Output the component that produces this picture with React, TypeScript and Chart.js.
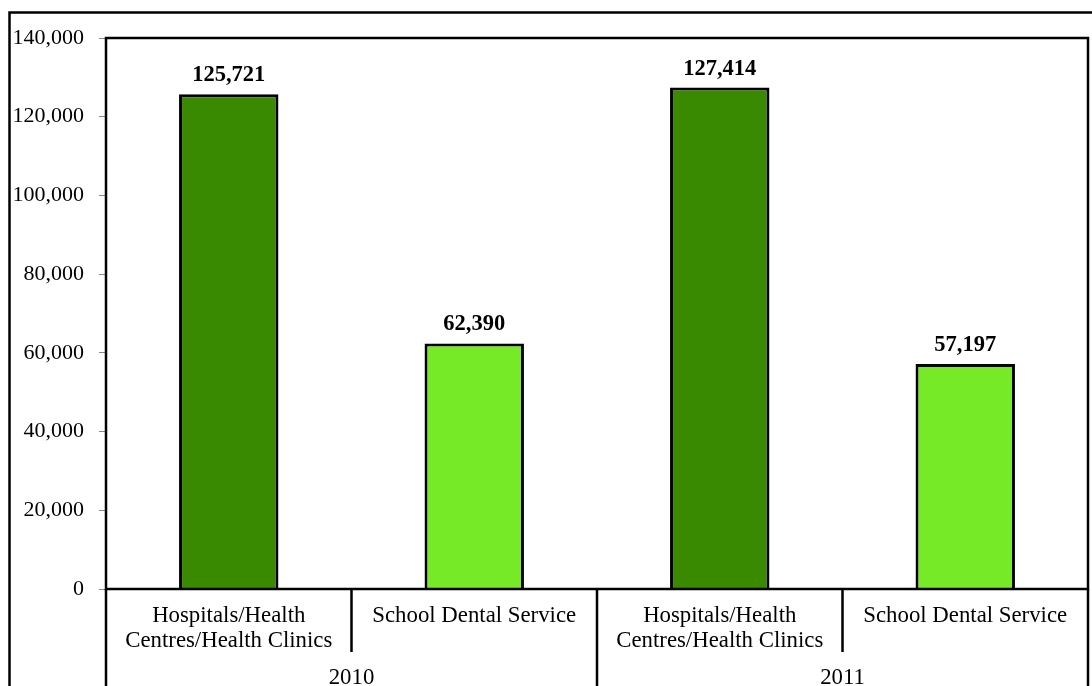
import React, { useEffect, useRef } from "react";
import { Chart, registerables } from "chart.js";

Chart.register(...registerables);

const categories = [
  ["Hospitals/Health", "Centres/Health Clinics"],
  ["School Dental Service"],
  ["Hospitals/Health", "Centres/Health Clinics"],
  ["School Dental Service"],
];
const groups = ["2010", "2011"];
const values = [125721, 62390, 127414, 57197];
const barColors = ["#3a8a00", "#77ea28", "#3a8a00", "#77ea28"];
const yTicks = [0, 20000, 40000, 60000, 80000, 100000, 120000, 140000];

const FONT = "'Liberation Serif', 'Times New Roman', serif";

export default function App() {
  const ref = useRef<HTMLCanvasElement | null>(null);

  useEffect(() => {
    document.body.style.margin = "0";
    const canvas = ref.current;
    if (!canvas) return;

    const decorPlugin = {
      id: "decor",
      beforeDraw(chart: any) {
        const ctx = chart.ctx;
        ctx.save();
        ctx.fillStyle = "#ffffff";
        ctx.fillRect(0, 0, chart.width, chart.height);
        ctx.strokeStyle = "#000";
        ctx.lineWidth = 2.5;
        ctx.beginPath();
        ctx.moveTo(9.5, chart.height + 5);
        ctx.lineTo(9.5, 12.5);
        ctx.lineTo(chart.width + 5, 12.5);
        ctx.stroke();
        ctx.restore();
      },
      afterDatasetsDraw(chart: any) {
        const ctx = chart.ctx;
        const area = chart.chartArea;
        const xs = chart.scales.x;
        ctx.save();
        ctx.strokeStyle = "#000";
        ctx.lineWidth = 2.5;
        ctx.strokeRect(area.left, area.top, area.right - area.left, area.bottom - area.top);
        ctx.beginPath();
        ctx.moveTo(area.left, area.bottom);
        ctx.lineTo(area.left, chart.height + 5);
        ctx.moveTo(area.right, area.bottom);
        ctx.lineTo(area.right, chart.height + 5);
        const n = categories.length;
        const half = n / groups.length;
        for (let i = 1; i < n; i++) {
          const x = (xs.getPixelForValue(i - 1) + xs.getPixelForValue(i)) / 2;
          ctx.moveTo(x, area.bottom);
          ctx.lineTo(x, i % half === 0 ? chart.height + 5 : area.bottom + 63);
        }
        ctx.stroke();

        ctx.fillStyle = "#000";
        ctx.font = `22.8px ${FONT}`;
        ctx.textAlign = "center";
        ctx.textBaseline = "middle";
        categories.forEach((lines, i) => {
          const x = xs.getPixelForValue(i);
          lines.forEach((line, j) => {
            ctx.fillText(line, x, area.bottom + 27 + j * 25);
          });
        });
        groups.forEach((g, gi) => {
          const x0 = xs.getPixelForValue(gi * half);
          const x1 = xs.getPixelForValue(gi * half + half - 1);
          ctx.fillText(g, (x0 + x1) / 2, area.bottom + 89);
        });

        ctx.font = `bold 22.5px ${FONT}`;
        ctx.textBaseline = "alphabetic";
        const meta = chart.getDatasetMeta(0);
        meta.data.forEach((bar: any, i: number) => {
          ctx.fillText(values[i].toLocaleString("en-US"), bar.x, bar.y - 13);
        });
        ctx.restore();
      },
    };

    const chart = new Chart(canvas, {
      type: "bar",
      data: {
        labels: categories.map((c) => c.join(" ")),
        datasets: [
          {
            data: values,
            backgroundColor: barColors,
            borderColor: "#000",
            borderWidth: 3,
            barPercentage: 0.405,
            categoryPercentage: 1,
          },
        ],
      },
      options: {
        responsive: false,
        animation: false,
        layout: { padding: { top: 38, right: 4, bottom: 97, left: 0 } },
        plugins: { legend: { display: false }, tooltip: { enabled: false } },
        scales: {
          x: {
            display: false,
          },
          y: {
            min: 0,
            max: 140000,
            afterFit(scale: any) {
              scale.width = 106;
            },
            afterBuildTicks(scale: any) {
              scale.ticks = yTicks.map((v) => ({ value: v }));
            },
            ticks: {
              font: { family: FONT, size: 22 },
              color: "#000",
              padding: 15,
              callback: (v: any) => Number(v).toLocaleString("en-US"),
            },
            grid: {
              drawOnChartArea: false,
              drawTicks: true,
              tickLength: 7,
              color: "#888",
            },
            border: { display: false },
          },
        },
      },
      plugins: [decorPlugin],
    });
    return () => chart.destroy();
  }, []);

  return (
    <div style={{ width: 1092, height: 686 }}>
      <canvas ref={ref} width={1092} height={686} />
    </div>
  );
}
